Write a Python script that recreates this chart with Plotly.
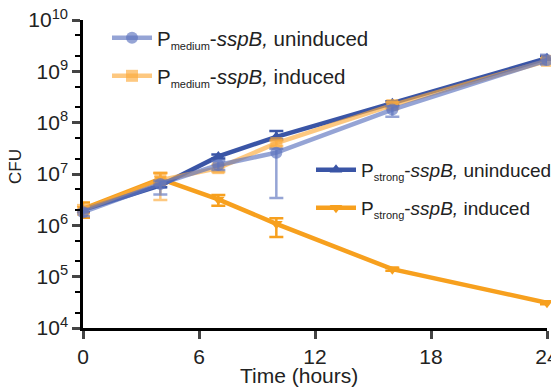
import plotly.graph_objects as go

# ---- data ----
time_h = [0, 4, 7, 10, 16, 24]

med_unind = [1.8e6, 6.4e6, 1.5e7, 2.6e7, 1.8e8, 1.66e9]
med_unind_up = [0.3e6, 1.0e6, 0.3e7, 0.5e7, 0.3e8, 0.45e9]
med_unind_dn = [0.3e6, 2.4e6, 0.3e7, 2.26e7, 0.5e8, 0.3e9]

med_ind = [2.0e6, 7.6e6, 1.3e7, 4.0e7, 2.2e8, 1.6e9]
med_ind_up = [0.3e6, 2.9e6, 0.2e7, 0.5e7, 0.3e8, 0.2e9]
med_ind_dn = [0.3e6, 4.5e6, 0.2e7, 0.5e7, 0.3e8, 0.2e9]

str_unind = [2.0e6, 6.0e6, 2.2e7, 5.3e7, 2.4e8, 1.8e9]
str_unind_up = [0.2e6, 0.5e6, 0.2e7, 1.6e7, 0.2e8, 0.2e9]
str_unind_dn = [0.2e6, 0.5e6, 0.2e7, 0.6e7, 0.2e8, 0.2e9]

str_ind = [2.1e6, 8.0e6, 3.2e6, 1.07e6, 1.4e5, 3.1e4]
str_ind_up = [0.7e6, 2.5e6, 0.7e6, 0.31e6, 0.1e5, 0.2e4]
str_ind_dn = [0.7e6, 1.5e6, 0.8e6, 0.48e6, 0.1e5, 0.2e4]

y_tick_vals = [1e4, 1e5, 1e6, 1e7, 1e8, 1e9, 1e10]
y_tick_text = ["10<sup>4</sup>", "10<sup>5</sup>", "10<sup>6</sup>", "10<sup>7</sup>",
               "10<sup>8</sup>", "10<sup>9</sup>", "10<sup>10</sup>"]
x_tick_vals = [0, 6, 12, 18, 24]

SUB = "<sub><span style='font-size:11px'>{}</span></sub>"
names = [
    "P" + SUB.format("strong") + "-<i>sspB,</i> induced",
    "P" + SUB.format("strong") + "-<i>sspB,</i> uninduced",
    "P" + SUB.format("medium") + "-<i>sspB,</i> induced",
    "P" + SUB.format("medium") + "-<i>sspB,</i> uninduced",
]

ORANGE = "#F7A01E"
DARKBLUE = "#3A55A6"
LIGHTBLUE = "rgba(92,115,190,0.65)"
LIGHTORANGE = "rgba(252,170,60,0.65)"

# plot area in pixels
L, R, T, B = 83, 547, 20, 328
PW, PH = R - L, B - T

fig = go.Figure()

def add(y, up, dn, name, color, symbol, size, legend):
    fig.add_trace(go.Scatter(
        x=time_h, y=y, name=name, mode="lines+markers",
        line=dict(color=color, width=4.5),
        marker=dict(symbol=symbol, size=size, color=color),
        error_y=dict(type="data", array=up, arrayminus=dn, symmetric=False,
                     color=color, thickness=2.5, width=7),
        legend=legend, cliponaxis=False,
    ))

add(str_ind, str_ind_up, str_ind_dn, names[0], ORANGE, "triangle-down", 11, "legend4")
add(str_unind, str_unind_up, str_unind_dn, names[1], DARKBLUE, "triangle-up", 11, "legend3")
add(med_ind, med_ind_up, med_ind_dn, names[2], LIGHTORANGE, "square", 12, "legend2")
add(med_unind, med_unind_up, med_unind_dn, names[3], LIGHTBLUE, "circle", 12, "legend")

FAM = "Liberation Sans, Arial, sans-serif"
font = dict(family=FAM, size=20.5, color="#222")

def leg(px, py, size):
    return dict(x=(px - L) / PW, y=(B - py) / PH, xanchor="left", yanchor="middle",
                bgcolor="rgba(0,0,0,0)", font=dict(family=FAM, size=size, color="#222"),
                itemwidth=40)

def ann(text, px, py, size, angle=0):
    return dict(text=text, x=(px - L) / PW, y=(B - py) / PH, xref="paper", yref="paper",
                showarrow=False, textangle=angle, xanchor="center", yanchor="middle",
                font=dict(size=size, color="#222"))

fig.update_layout(
    width=551, height=387,
    margin=dict(l=L, r=551 - R, t=T, b=387 - B, autoexpand=False),
    paper_bgcolor="white", plot_bgcolor="white",
    font=font,
    showlegend=True,
    legend=leg(107, 38, 20.5),
    legend2=leg(107, 76, 20.5),
    legend3=leg(311, 170, 19),
    legend4=leg(311, 208, 19),
    xaxis=dict(range=[0, 24], tickvals=x_tick_vals, ticks="outside", ticklen=8,
               tickwidth=2.5, linewidth=2.5, linecolor="black", showline=True,
               showgrid=False, zeroline=False, automargin=False,
               ticklabeloverflow="allow",
               tickfont=dict(size=21, color="#222")),
    yaxis=dict(type="log", range=[4, 10], tickvals=y_tick_vals, ticktext=y_tick_text,
               ticks="outside", ticklen=8, tickwidth=2.5, linewidth=2.5,
               linecolor="black", showline=True, showgrid=False, zeroline=False,
               automargin=False, tickfont=dict(size=21, color="#222"),
               minor=dict(ticks="outside", ticklen=5, tickwidth=2, tickcolor="black",
                          showgrid=False)),
    annotations=[
        ann("Time (hours)", 299, 375, 21),
        ann("CFU", 15, 167, 17, -90),
    ],
)

fig.write_html("out.html", config={"displayModeBar": False},
               post_script="document.body.style.margin='0';document.body.style.overflow='hidden';")
